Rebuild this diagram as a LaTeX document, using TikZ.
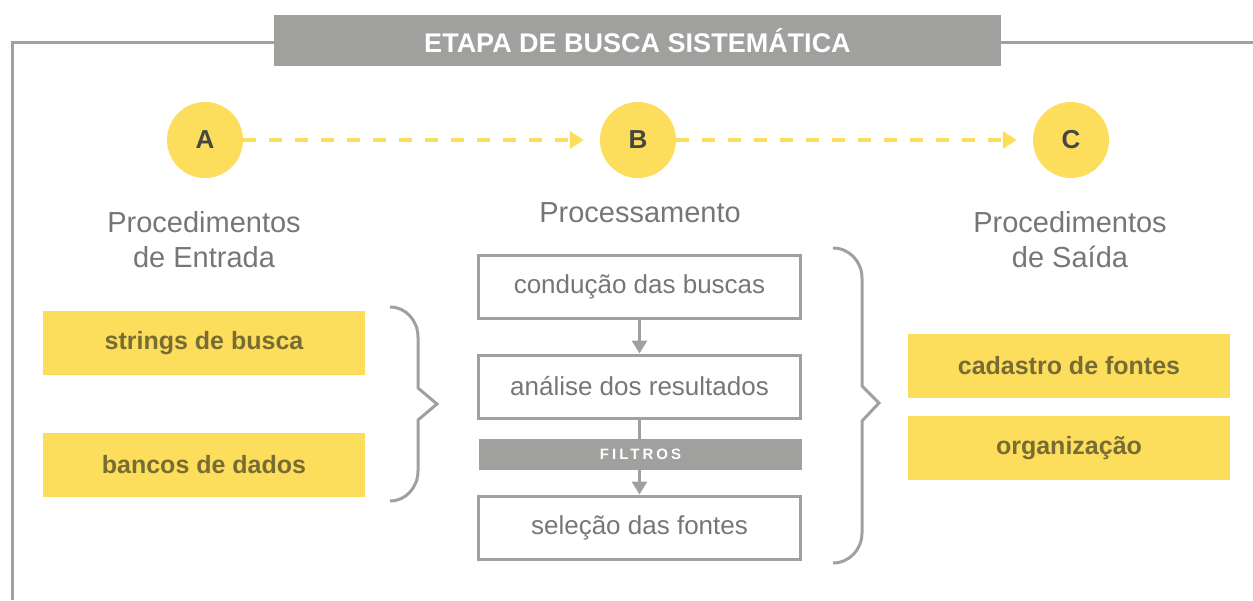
\documentclass[tikz,border=0pt]{standalone}
\usepackage{fontspec}
\setmainfont{Liberation Sans}
\usepackage{tikz}
\usetikzlibrary{arrows,arrows.meta,positioning,calc}
\definecolor{amarelo}{RGB}{253,221,92}
\definecolor{cinza}{RGB}{160,161,158}
\definecolor{cinzatexto}{RGB}{118,118,118}
\definecolor{cinzaescuro}{RGB}{70,70,70}
\definecolor{oliva}{RGB}{118,108,52}

\begin{document}
\begin{tikzpicture}[x=1pt, y=1pt, auto, node distance=433pt]
\tikzstyle{etapa}=[circle, fill=amarelo, minimum size=76pt, inner sep=0pt, text=cinzaescuro, font=\bfseries\fontsize{26}{26}\selectfont]
\tikzstyle{rotulo}=[align=center, text=cinzatexto, font=\fontsize{29}{35}\selectfont]
\tikzstyle{entrada}=[fill=amarelo, minimum width=322pt, minimum height=64pt, text=oliva, font=\bfseries\fontsize{25}{25}\selectfont]
\tikzstyle{processo}=[draw=cinza, line width=3pt, minimum width=322pt, minimum height=63pt, text=cinzatexto, font=\fontsize{26}{26}\selectfont]
\tikzstyle{faixa}=[fill=cinza, text=white, inner sep=0pt]
\tikzstyle{seta}=[-{Triangle[length=14pt,width=17pt]}, draw=amarelo, line width=4pt, dash pattern=on 13pt off 13pt, shorten >=16pt]
\tikzstyle{fluxo}=[-{Triangle[length=13pt,width=15pt]}, draw=cinza, line width=3pt]
\tikzstyle{chave}=[draw=cinza, line width=3pt, line join=miter]
\useasboundingbox (0,0) rectangle (1253,-600);

% moldura e titulo
\node[faixa, minimum width=727pt, minimum height=51pt, font=\bfseries\fontsize{27}{27}\selectfont] (titulo) at (637.5,-40.5) {ETAPA DE BUSCA SISTEMÁTICA};
\coordinate (canto) at (12,-42);
\coordinate (fim) at (1253,-42);
\coordinate (base) at (12,-600);
\draw[cinza, line width=3pt] (titulo.east |- fim) -- (fim);
\draw[cinza, line width=3pt] (titulo.west |- canto) -- (canto) -- (base);

% etapas
\node[etapa] (A) at (205,-140) {A};
\node[etapa] (B) [right of=A] {B};
\node[etapa] (C) [right of=B] {C};
\draw[seta] (A) -- (B);
\draw[seta] (B) -- (C);

\node[rotulo] (entrada) at (204,-240) {Procedimentos\\de Entrada};
\node[rotulo] (processamento) at (640,-213) {Processamento};
\node[rotulo] (saida) at (1070,-240) {Procedimentos\\de Saída};

% entrada
\node[entrada] (strings) at (204,-343) {strings de busca};
\node[entrada] (bancos) at (204,-464.5) {bancos de dados};
\draw[chave] (390,-307) to[out=0,in=90] (418,-337) -- (418,-388) -- (437,-404)
  -- (418,-420) -- (418,-471) to[out=-90,in=0] (390,-501);

% processamento
\node[processo] (conducao) at (639.5,-287) {condução das buscas};
\node[processo] (analise) at (639.5,-386.5) {análise dos resultados};
\node[processo] (selecao) at (639.5,-527.5) {seleção das fontes};
\draw[fluxo] (conducao) -- (analise);
\draw[fluxo] (analise) -- (selecao);
\node[faixa, minimum width=323pt, minimum height=31pt, font=\bfseries\fontsize{15}{15}\selectfont\addfontfeature{LetterSpace=20}] (filtros) at (640.5,-454.5) {FILTROS};
\draw[chave] (833,-248) to[out=0,in=90] (862,-278) -- (862,-386) -- (879,-403)
  -- (862,-421) -- (862,-533) to[out=-90,in=0] (833,-563);

% saida
\node[entrada] (cadastro) at (1069,-365.5) {cadastro de fontes};
\node[entrada] (organizacao) at (1069,-448) {organização};
\end{tikzpicture}
\end{document}
